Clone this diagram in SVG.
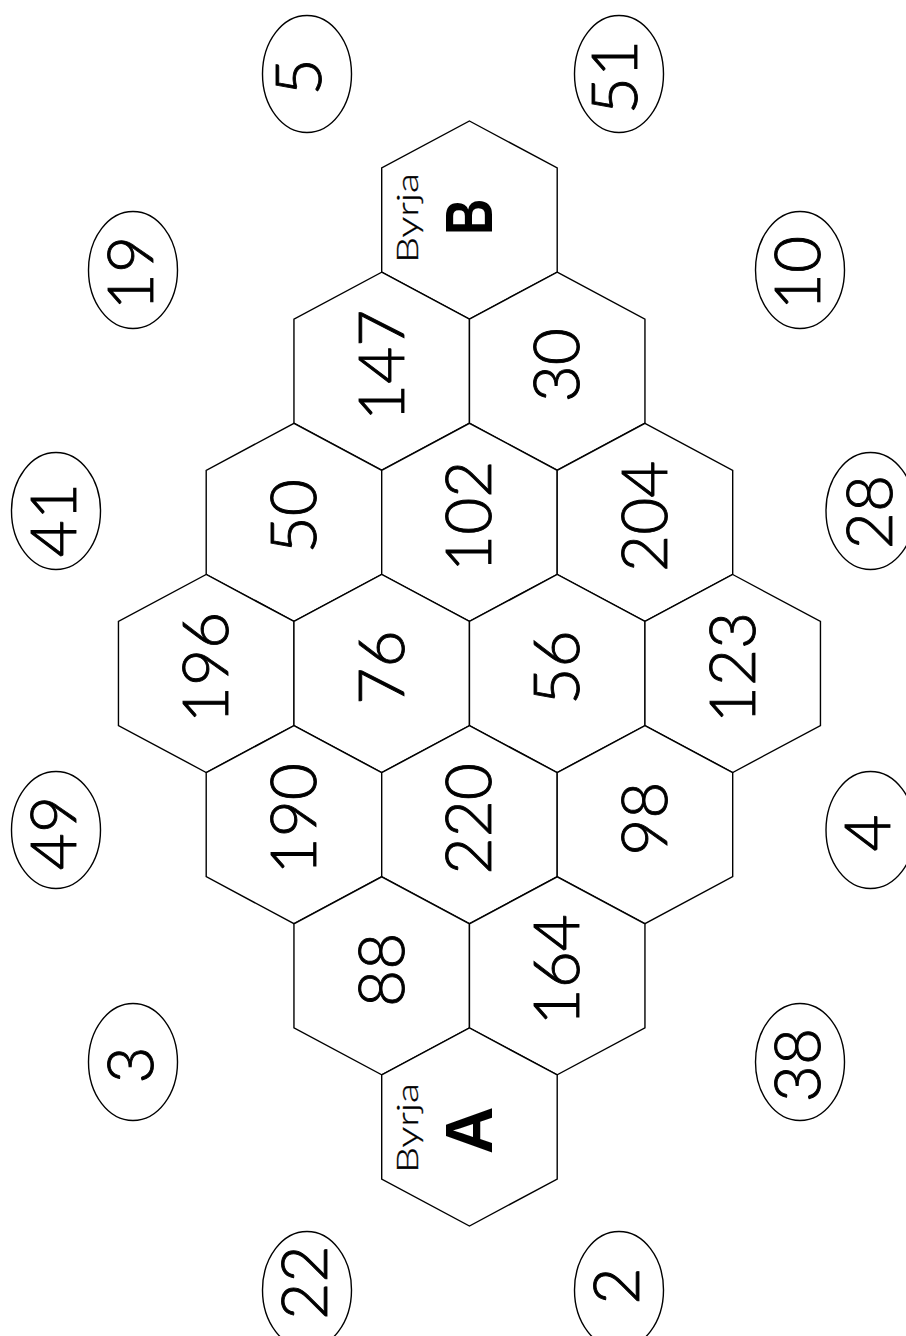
<svg xmlns="http://www.w3.org/2000/svg" width="906" height="1336" viewBox="0 0 906 1336">
<style>
.hex{fill:#fff;stroke:#000;stroke-width:1.4;stroke-linejoin:miter}
.oval{fill:#fff;stroke:#000;stroke-width:1.4}
.num{font-family:Lato,"Open Sans",sans-serif;font-weight:300;font-size:64px;fill:#000;stroke:#000;stroke-width:0.9;text-anchor:middle}
.byrja{font-family:Lato,"Open Sans",sans-serif;font-weight:300;font-size:30px;fill:#000;stroke:#000;stroke-width:0.3;text-anchor:middle}
.big{font-family:"Liberation Sans",Arial,sans-serif;font-weight:700;font-size:66px;fill:#000;text-anchor:middle}
</style>
<defs>
<polygon id="hx" class="hex" points="0,-99 87.75,-52 87.75,52 0,99 -87.75,52 -87.75,-52"/>
<ellipse id="ov" class="oval" cx="0" cy="0" rx="44.5" ry="58.5"/>
</defs>
<g id="connectors"></g>
<g id="hexB"><use href="#hx" x="469.45" y="220"/>
<text class="byrja" transform="translate(418,218) rotate(-90)" textLength="90" lengthAdjust="spacingAndGlyphs">Byrja</text>
<text class="big" transform="translate(492,216.7) rotate(-90)" textLength="36" lengthAdjust="spacingAndGlyphs">B</text></g>
<g id="hex147"><use href="#hx" x="381.7" y="371.2"/><text class="num" transform="translate(380.7,365.2) rotate(-90)" y="23">147</text></g>
<g id="hex30"><use href="#hx" x="557.2" y="371.2"/><text class="num" transform="translate(556.2,365.2) rotate(-90)" y="23">30</text></g>
<g id="hex50"><use href="#hx" x="293.95" y="522.3"/><text class="num" transform="translate(292.95,516.3) rotate(-90)" y="23">50</text></g>
<g id="hex102"><use href="#hx" x="469.45" y="522.3"/><text class="num" transform="translate(468.45,516.3) rotate(-90)" y="23">102</text></g>
<g id="hex204"><use href="#hx" x="644.95" y="522.3"/><text class="num" transform="translate(643.95,516.3) rotate(-90)" y="23">204</text></g>
<g id="hex196"><use href="#hx" x="206.2" y="673.5"/><text class="num" transform="translate(205.2,667.5) rotate(-90)" y="23">196</text></g>
<g id="hex76"><use href="#hx" x="381.7" y="673.5"/><text class="num" transform="translate(380.7,667.5) rotate(-90)" y="23">76</text></g>
<g id="hex56"><use href="#hx" x="557.2" y="673.5"/><text class="num" transform="translate(556.2,667.5) rotate(-90)" y="23">56</text></g>
<g id="hex123"><use href="#hx" x="732.7" y="673.5"/><text class="num" transform="translate(731.7,667.5) rotate(-90)" y="23">123</text></g>
<g id="hex190"><use href="#hx" x="293.95" y="824.7"/><text class="num" transform="translate(292.95,818.7) rotate(-90)" y="23">190</text></g>
<g id="hex220"><use href="#hx" x="469.45" y="824.7"/><text class="num" transform="translate(468.45,818.7) rotate(-90)" y="23">220</text></g>
<g id="hex98"><use href="#hx" x="644.95" y="824.7"/><text class="num" transform="translate(643.95,818.7) rotate(-90)" y="23">98</text></g>
<g id="hex88"><use href="#hx" x="381.7" y="975.8"/><text class="num" transform="translate(380.7,969.8) rotate(-90)" y="23">88</text></g>
<g id="hex164"><use href="#hx" x="557.2" y="975.8"/><text class="num" transform="translate(556.2,969.8) rotate(-90)" y="23">164</text></g>
<g id="hexA"><use href="#hx" x="469.45" y="1127"/>
<text class="byrja" transform="translate(418,1128) rotate(-90)" textLength="90" lengthAdjust="spacingAndGlyphs">Byrja</text>
<text class="big" transform="translate(492,1130.5) rotate(-90)">A</text></g>
<g id="o5"><use href="#ov" x="307" y="74"/><text class="num" transform="translate(298,77) rotate(-90)" y="23">5</text></g>
<g id="o51"><use href="#ov" x="619" y="74"/><text class="num" transform="translate(614,77) rotate(-90)" y="23">51</text></g>
<g id="o19"><use href="#ov" x="133" y="270"/><text class="num" transform="translate(130,273) rotate(-90)" y="23">19</text></g>
<g id="o10"><use href="#ov" x="800" y="270"/><text class="num" transform="translate(797,273) rotate(-90)" y="23">10</text></g>
<g id="o41"><use href="#ov" x="56" y="511"/><text class="num" transform="translate(53,520) rotate(-90)" y="23">41</text></g>
<g id="o28"><use href="#ov" x="870.5" y="511"/><text class="num" transform="translate(869,512) rotate(-90)" y="23">28</text></g>
<g id="o49"><use href="#ov" x="56" y="830"/><text class="num" transform="translate(53,833) rotate(-90)" y="23">49</text></g>
<g id="o4"><use href="#ov" x="870.5" y="830"/><text class="num" transform="translate(867,833) rotate(-90)" y="23">4</text></g>
<g id="o3"><use href="#ov" x="133" y="1062"/><text class="num" transform="translate(130,1065) rotate(-90)" y="23">3</text></g>
<g id="o38"><use href="#ov" x="800" y="1062"/><text class="num" transform="translate(797,1065) rotate(-90)" y="23">38</text></g>
<g id="o22"><use href="#ov" x="307" y="1290"/><text class="num" transform="translate(303.5,1282.6) rotate(-90)" y="23">22</text></g>
<g id="o2"><use href="#ov" x="619" y="1290"/><text class="num" transform="translate(616,1286) rotate(-90)" y="23">2</text></g>
</svg>
